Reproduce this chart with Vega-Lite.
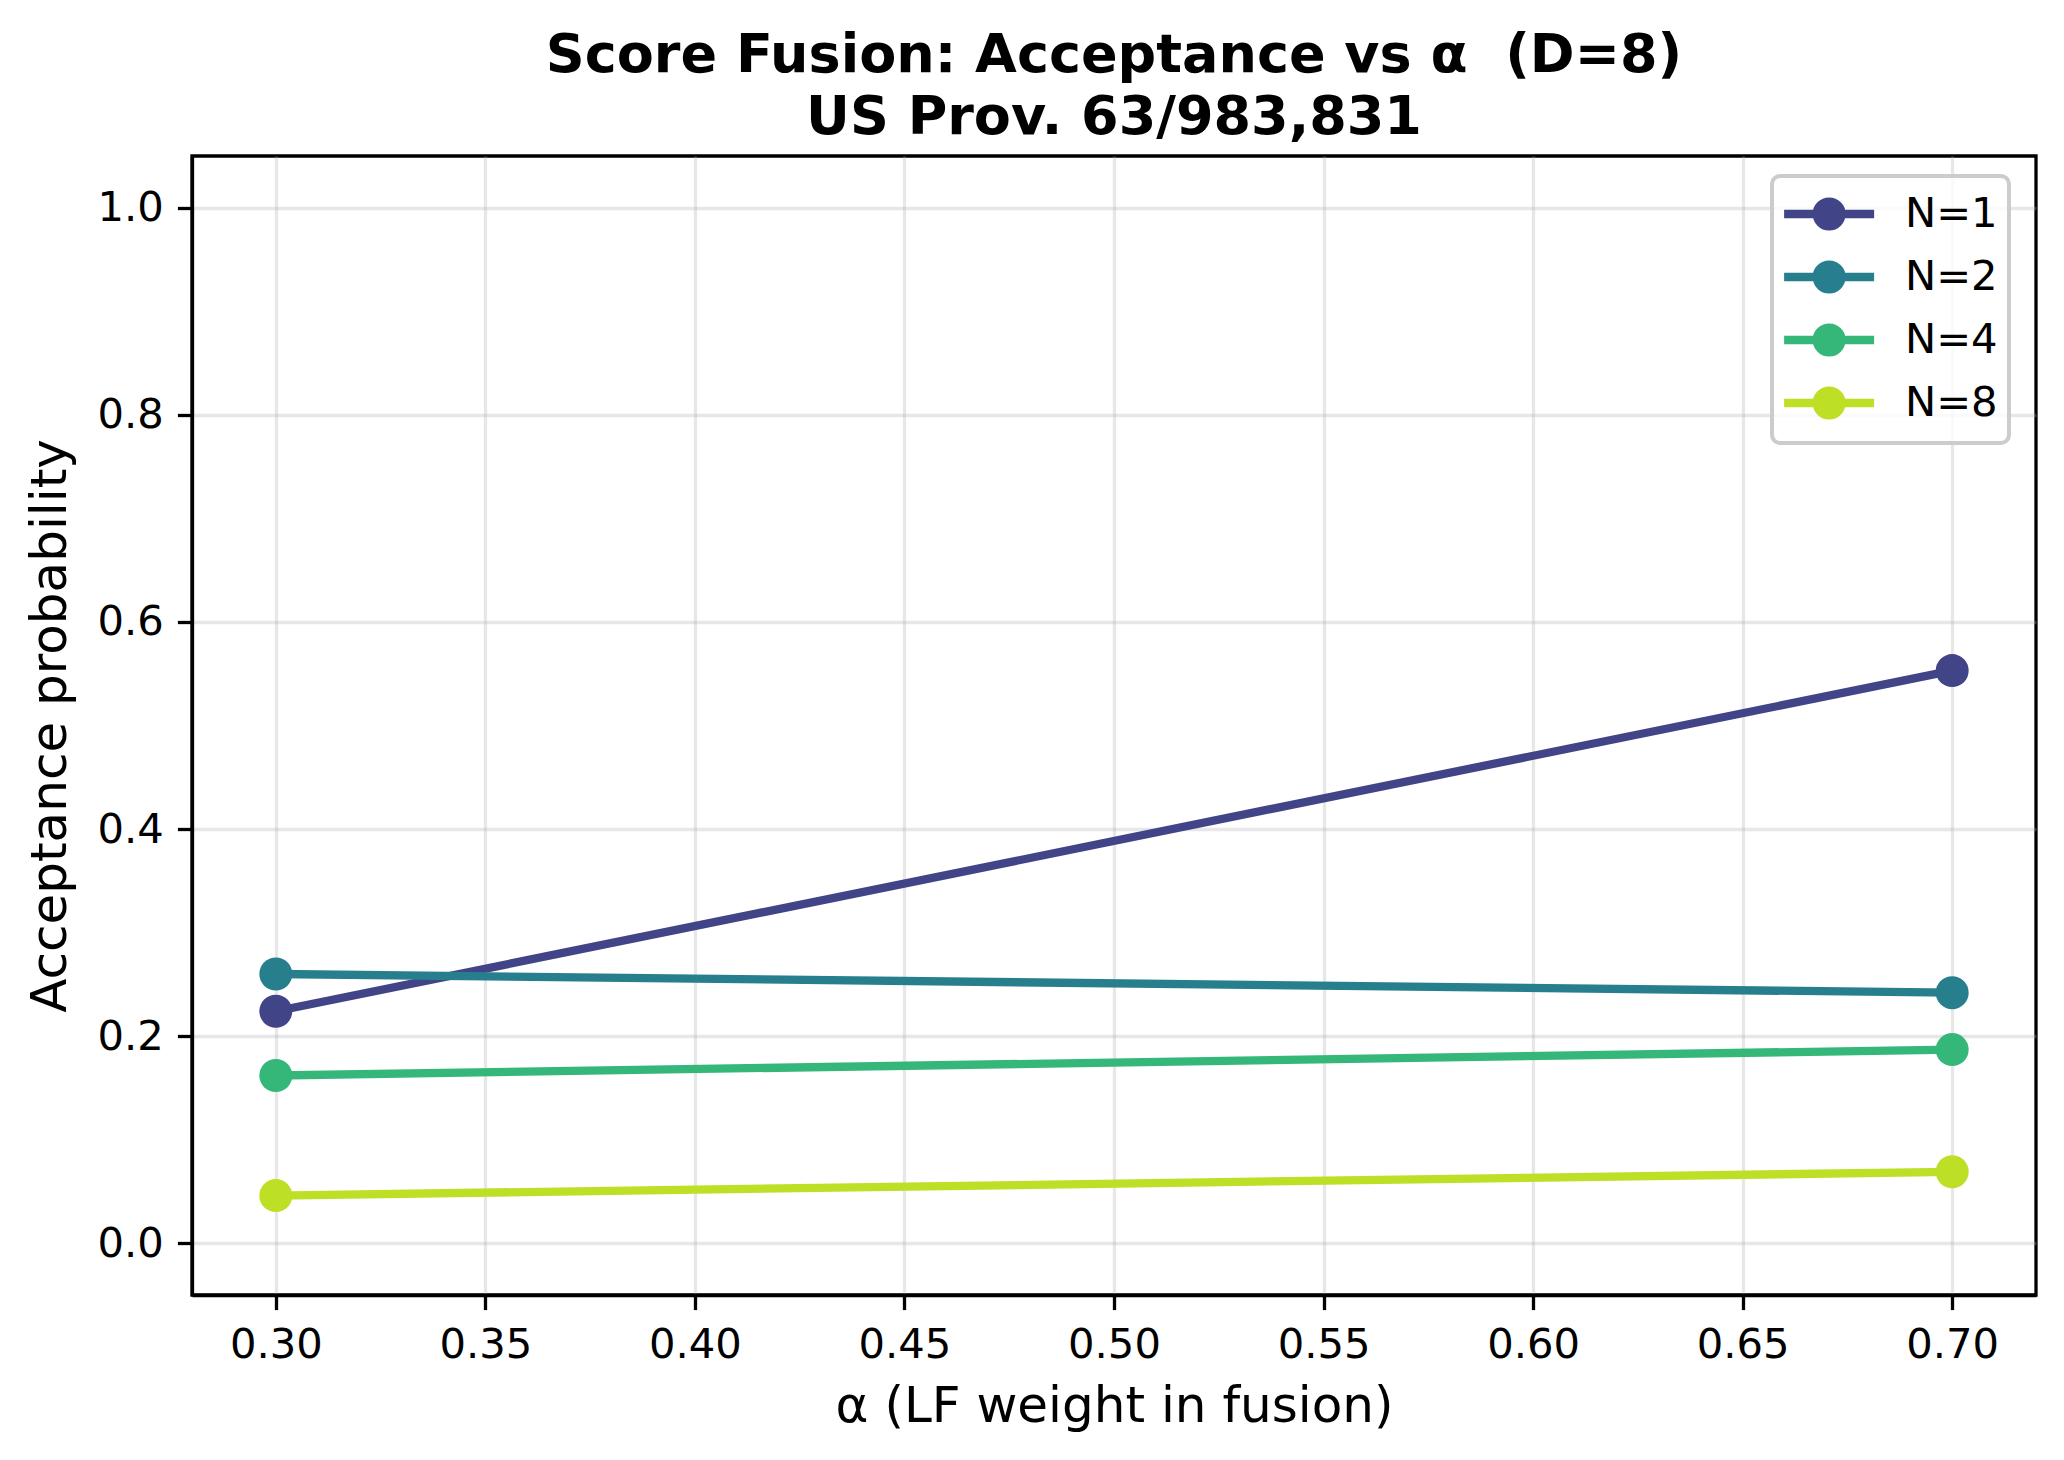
{
  "$schema": "https://vega.github.io/schema/vega-lite/v6.json",
  "autosize": {"type": "none"},
  "width": 1844,
  "height": 1139,
  "padding": {"left": 192, "top": 156, "right": 28, "bottom": 165},
  "background": "white",
  "title": {
    "text": ["Score Fusion: Acceptance vs α\u00a0 (D=8)", "US Prov. 63/983,831"],
    "font": "DejaVu Sans",
    "fontSize": 54,
    "fontWeight": "bold",
    "color": "black",
    "lineHeight": 62,
    "anchor": "middle",
    "offset": 11
  },
  "data": {
    "values": [
      {"alpha": 0.3, "acc": 0.224, "N": "N=1"},
      {"alpha": 0.7, "acc": 0.553, "N": "N=1"},
      {"alpha": 0.3, "acc": 0.260, "N": "N=2"},
      {"alpha": 0.7, "acc": 0.242, "N": "N=2"},
      {"alpha": 0.3, "acc": 0.162, "N": "N=4"},
      {"alpha": 0.7, "acc": 0.187, "N": "N=4"},
      {"alpha": 0.3, "acc": 0.046, "N": "N=8"},
      {"alpha": 0.7, "acc": 0.069, "N": "N=8"}
    ]
  },
  "encoding": {
    "x": {
      "field": "alpha",
      "type": "quantitative",
      "title": "α (LF weight in fusion)",
      "scale": {"domain": [0.28, 0.72], "nice": false, "zero": false},
      "axis": {
        "values": [0.3, 0.35, 0.4, 0.45, 0.5, 0.55, 0.6, 0.65, 0.7],
        "format": ".2f",
        "labelPadding": 15,
        "titlePadding": 15
      }
    },
    "y": {
      "field": "acc",
      "type": "quantitative",
      "title": "Acceptance probability",
      "scale": {"domain": [-0.05, 1.05], "nice": false, "zero": false},
      "axis": {
        "values": [0, 0.2, 0.4, 0.6, 0.8, 1.0],
        "format": ".1f",
        "labelPadding": 14,
        "titlePadding": 22
      }
    }
  },
  "layer": [
    {
      "mark": {"type": "line", "strokeWidth": 8.3},
      "encoding": {
        "color": {
          "field": "N",
          "type": "nominal",
          "scale": {
            "domain": ["N=1", "N=2", "N=4", "N=8"],
            "range": ["#414487", "#277f8e", "#35b779", "#bddf26"]
          },
          "legend": {
            "title": null,
            "orient": "none",
            "legendX": 1580,
            "legendY": 20,
            "padding": 11,
            "fillColor": "rgba(255,255,255,0.8)",
            "strokeColor": "#cccccc",
            "cornerRadius": 8,
            "rowPadding": 5,
            "symbolType": "M-1.15,0L2.85,0M1.4,0A0.55,0.55,0,1,1,0.3,0A0.55,0.55,0,1,1,1.4,0Z",
            "symbolSize": 2025,
            "symbolStrokeWidth": 8.3,
            "labelFont": "DejaVu Sans",
            "labelFontSize": 41.7,
            "labelColor": "black",
            "labelOffset": 68,
            "encode": {
              "symbols": {
                "update": {
                  "fill": {"scale": "color", "field": "value"},
                  "stroke": {"scale": "color", "field": "value"},
                  "opacity": {"value": 1}
                }
              },
              "legend": {
                "update": {"strokeWidth": {"value": 4}}
              }
            }
          }
        }
      }
    },
    {
      "mark": {"type": "point", "filled": true, "size": 1089, "opacity": 1},
      "encoding": {
        "color": {"field": "N", "type": "nominal", "legend": null}
      }
    }
  ],
  "config": {
    "view": {"stroke": "black", "strokeWidth": 3.3},
    "axis": {
      "labelFont": "DejaVu Sans",
      "labelFontSize": 41.7,
      "labelColor": "black",
      "titleFont": "DejaVu Sans",
      "titleFontSize": 50,
      "titleFontWeight": "normal",
      "titleColor": "black",
      "domainColor": "black",
      "domainWidth": 3.3,
      "tickColor": "black",
      "tickWidth": 3.3,
      "tickSize": 14.6,
      "grid": true,
      "gridColor": "#b0b0b0",
      "gridOpacity": 0.3,
      "gridWidth": 3.3
    }
  }
}
